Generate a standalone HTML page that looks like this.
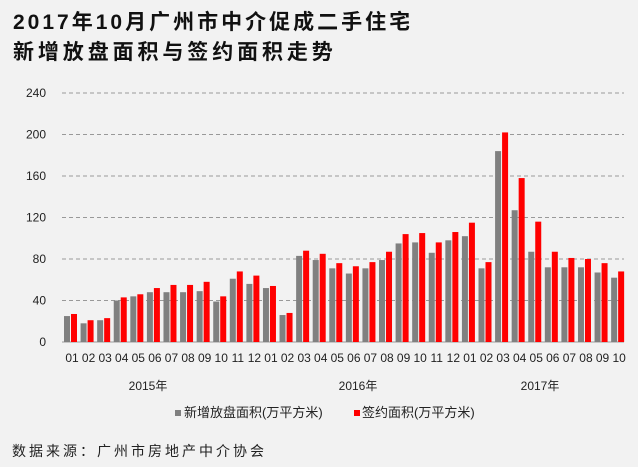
<!DOCTYPE html>
<html><head><meta charset="utf-8"><style>
body{margin:0;background:#f2f2f2;}
.t{position:absolute;left:13px;font:bold 21px "Liberation Sans","Noto Sans CJK SC",sans-serif;color:#111;}
</style></head><body>
<div style="position:relative;width:638px;height:467px;overflow:hidden;background:#f2f2f2">
<div class="t" style="top:6px;letter-spacing:3px">2017年10月广州市中介促成二手住宅</div>
<div class="t" style="top:36px;letter-spacing:3.9px">新增放盘面积与签约面积走势</div>
<svg width="638" height="467" style="position:absolute;left:0;top:0" font-family="Liberation Sans,Noto Sans CJK SC,sans-serif">
<g id="g"></g>
</svg>
<div style="position:absolute;left:12px;top:441px;font:14px 'Liberation Sans','Noto Sans CJK SC',sans-serif;letter-spacing:3px;color:#222">数据来源：广州市房地产中介协会</div>
</div>
<script>
var gr=[25,18,21,40,44,48,48,48,49,39,61,56,52,26,83,79,71,66,71,79,95,96,86,98,102,71,184,127,87,72,72,72,67,62];
var rd=[27,21,23,43,46,52,55,55,58,44,68,64,54,28,88,85,76,73,77,87,104,105,96,106,115,77,202,158,116,87,81,80,76,68];
var s='';var y0=342,k=249/240;
for(var v=0;v<=240;v+=40){var y=y0-v*k;
 if(v>0)s+='<line x1="62" x2="624" y1="'+y+'" y2="'+y+'" stroke="#999" stroke-dasharray="4,3" stroke-width="1"/>';
 s+='<text x="46" y="'+(y+4)+'" text-anchor="end" font-size="12" fill="#222">'+v+'</text>';}
s+='<line x1="62" x2="624" y1="342" y2="342" stroke="#999"/>';
for(var i=0;i<34;i++){var c=72+i*16.58;
 s+='<rect x="'+(c-8)+'" y="'+(y0-gr[i]*k)+'" width="6" height="'+gr[i]*k+'" fill="#808080"/>';
 s+='<rect x="'+(c-1)+'" y="'+(y0-rd[i]*k)+'" width="6" height="'+rd[i]*k+'" fill="#ff0000"/>';
 var m=(i%12)+1;s+='<text x="'+c+'" y="362" text-anchor="middle" font-size="12" fill="#222">'+(m<10?'0'+m:m)+'</text>';}
s+='<text x="148" y="390" text-anchor="middle" font-size="12" fill="#222">2015年</text>';
s+='<text x="358" y="390" text-anchor="middle" font-size="12" fill="#222">2016年</text>';
s+='<text x="540" y="390" text-anchor="middle" font-size="12" fill="#222">2017年</text>';
s+='<rect x="175" y="410" width="6" height="6" fill="#808080"/><text x="184" y="417" font-size="13" fill="#222">新增放盘面积(万平方米)</text>';
s+='<rect x="354" y="410" width="6" height="6" fill="#ff0000"/><text x="362" y="417" font-size="13" fill="#222">签约面积(万平方米)</text>';
document.getElementById('g').innerHTML=s;
</script>
</body></html>
